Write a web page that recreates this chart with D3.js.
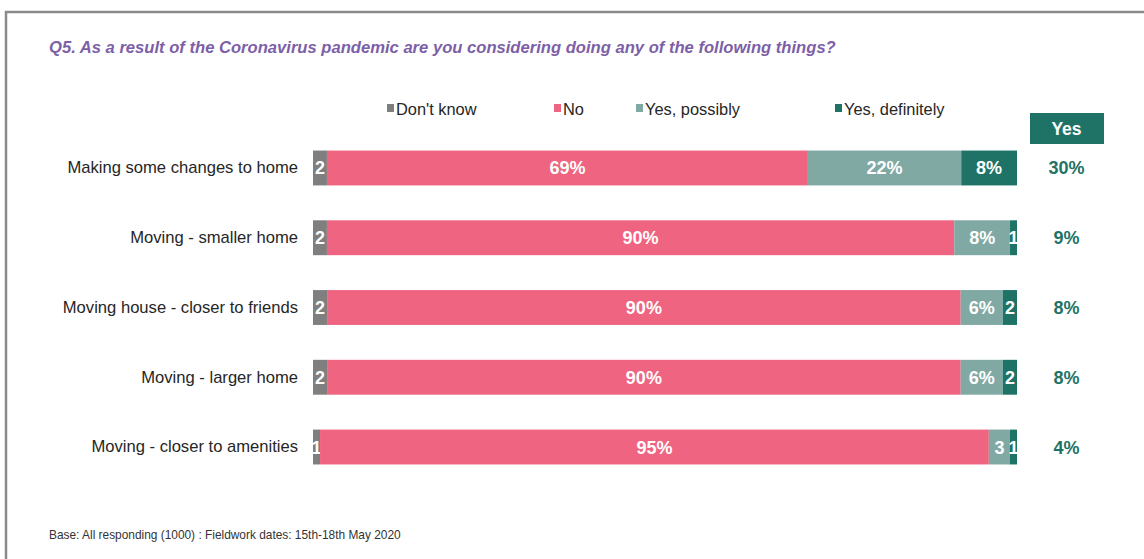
<!DOCTYPE html>
<html><head><meta charset="utf-8">
<script src="https://cdn.jsdelivr.net/npm/d3@7"></script>
<style>
html,body{margin:0;padding:0;background:#fff;}
svg{display:block;font-family:"Liberation Sans",Arial,sans-serif;}
</style></head>
<body>
<svg id="chart" width="1144" height="559"></svg>
<script>
const categories = ["Making some changes to home","Moving - smaller home","Moving house - closer to friends","Moving - larger home","Moving - closer to amenities"];
const seriesNames = ["Don't know","No","Yes, possibly","Yes, definitely"];
const dontKnow = [2,2,2,2,1];
const no = [69,90,90,90,95];
const yesPossibly = [22,8,6,6,3];
const yesDefinitely = [8,1,2,2,1];
const yesTotal = [30,9,8,8,4];
const colors = ["#7f7f7f","#ef6480","#80a9a4","#1f7366"];

const title = "Q5. As a result of the Coronavirus pandemic are you considering doing any of the following things?";
const footer = "Base: All responding (1000) : Fieldwork dates: 15th-18th May 2020";

const svg = d3.select("#chart");
// frame
svg.append("path").attr("d","M6,560 L6,12 L1145,12").attr("fill","none").attr("stroke","#8a8a8a").attr("stroke-width",2.5);

svg.append("text").attr("x",49).attr("y",53).attr("fill","#7d5fa8").attr("font-size",16.6)
  .attr("font-style","italic").attr("font-weight","bold").text(title);

const rows = categories.map((c,i)=>({cat:c, [seriesNames[0]]:dontKnow[i],[seriesNames[1]]:no[i],[seriesNames[2]]:yesPossibly[i],[seriesNames[3]]:yesDefinitely[i]}));
const stack = d3.stack().keys(seriesNames).offset(d3.stackOffsetExpand);
const series = stack(rows);

const x = d3.scaleLinear().domain([0,1]).range([313,1017]);
const y = d3.scaleBand().domain(categories).range([133.1,481.9]).paddingInner(0.5).paddingOuter(0.25);
const color = d3.scaleOrdinal().domain(seriesNames).range(colors);

// category labels
const yAxis = d3.axisLeft(y).tickSize(0).tickPadding(15);
const ya = svg.append("g").attr("transform",`translate(${x(0)},0)`).call(yAxis);
ya.select(".domain").remove();
ya.selectAll("text").attr("font-size",16.6).attr("fill","#262626").attr("font-family","'Liberation Sans',Arial,sans-serif");

const g = svg.append("g");
series.forEach(s=>{
  const key = s.key;
  const gs = g.append("g");
  gs.selectAll("rect").data(s).join("rect")
    .attr("x",d=>x(d[0])).attr("width",d=>x(d[1])-x(d[0]))
    .attr("y",d=>y(d.data.cat)).attr("height",y.bandwidth())
    .attr("fill",color(key));
  gs.selectAll("text").data(s).join("text")
    .attr("x",d=>(x(d[0])+x(d[1]))/2)
    .attr("y",d=>y(d.data.cat)+y.bandwidth()/2)
    .attr("dy","0.36em").attr("text-anchor","middle")
    .attr("fill","#fff").attr("font-weight","bold").attr("font-size",18)
    .text(d=>{const v=d.data[key]; return v>=5? v+"%" : String(v);});
});

// legend
const legX = [387,554,636,835];
const leg = svg.append("g");
seriesNames.forEach((n,i)=>{
  leg.append("rect").attr("x",legX[i]).attr("y",104).attr("width",7).attr("height",8).attr("fill",colors[i]);
  leg.append("text").attr("x",legX[i]+9).attr("y",115).attr("font-size",16.4).attr("fill","#262626").text(n);
});

// Yes column
const yesX = 1066.5;
svg.append("rect").attr("x",1030).attr("y",113).attr("width",74).attr("height",31).attr("fill","#1f7366");
svg.append("text").attr("x",yesX).attr("y",135).attr("text-anchor","middle").attr("fill","#fff")
  .attr("font-weight","bold").attr("font-size",17.5).text("Yes");
svg.append("g").selectAll("text").data(categories).join("text")
  .attr("x",yesX).attr("y",(d)=>y(d)+y.bandwidth()/2).attr("dy","0.36em")
  .attr("text-anchor","middle").attr("fill","#1f7366").attr("font-weight","bold").attr("font-size",18)
  .text((d,i)=>yesTotal[i]+"%");

svg.append("text").attr("x",49).attr("y",539).attr("font-size",11.9).attr("fill","#333").text(footer);
</script>
</body></html>
